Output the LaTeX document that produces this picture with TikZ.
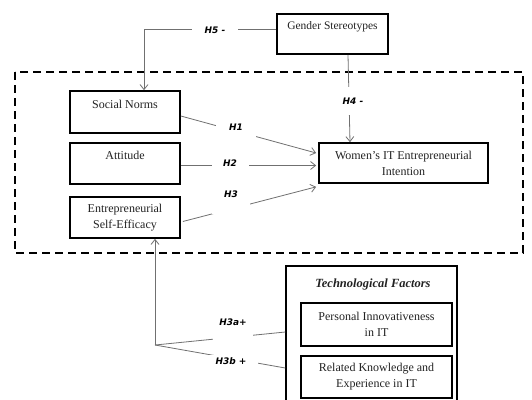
\documentclass[tikz,border=0pt]{standalone}
\usepackage{fontspec}
\setmainfont{Liberation Serif}
\newfontfamily\lblfont{DejaVu Sans}
\usetikzlibrary{arrows.meta,calc}
\definecolor{ln}{HTML}{707070}
\definecolor{txt}{HTML}{222222}
\begin{document}
\begin{tikzpicture}[x=1pt,y=-1pt,
  box/.style={draw=black,line width=1.7pt,align=center,inner sep=0pt,text=txt,
    font=\fontsize{12}{16}\selectfont,minimum width=110pt,minimum height=41pt},
  conn/.style={draw=ln,line width=0.8pt},
  arr/.style={conn,-{Straight Barb[length=5pt,width=8pt]}},
  lbl/.style={fill=white,inner sep=0pt,text=black,font=\lblfont\bfseries\itshape\fontsize{9}{10}\selectfont}
]
\useasboundingbox (0,0) rectangle (532,399);

% dashed frame
\draw[line width=2.2pt,dash pattern=on 8pt off 5pt] (15,72) rectangle (523,253);

% boxes
\node[box,minimum width=111pt,minimum height=40pt,font=\fontsize{11.5}{16}\selectfont] (gs) at (332.5,34) {Gender Stereotypes\\~};
\node[box,minimum height=42pt] (sn) at (125,112) {Social Norms\\~};
\node[box] (att) at (125,163.5) {Attitude\\~};
\node[box] (ese) at (125,217.5) {Entrepreneurial\\Self-Efficacy};
\node[box,minimum width=169pt,minimum height=40pt] (wie) at (403.5,163) {Women's IT Entrepreneurial\\Intention};

\node[draw=black,line width=1.5pt,minimum width=171pt,minimum height=144pt,inner sep=0pt] (tf) at (371.5,338) {};
\node[text=txt,font=\fontsize{12.5}{14}\selectfont\bfseries\itshape] (tft) at (373,284) {Technological Factors};
\node[box,minimum width=151pt,minimum height=43pt] (pi) at (376.5,324.5) {Personal Innovativeness\\in IT};
\node[box,minimum width=151pt,minimum height=42pt] (rk) at (376.5,377) {Related Knowledge and\\Experience in IT};

% connectors
\draw[arr] ($(gs.west)+(0,-5)$) -| ($(sn.north)+(19,0)$);
\draw[arr] ($(gs.south)+(15.5,0)$) -- ($(wie.north)+(-53.5,0)$);
\draw[arr] ($(sn.east)+(0,4)$) -- ($(wie.west)+(-2,-10)$);
\draw[arr] ($(att.east)+(0,2)$) -- ($(wie.west)+(-2,2.5)$);
\draw[arr] ($(ese.east)+(2,4)$) -- ($(wie.south west)+(-2,3)$);

\coordinate (split) at (155,345);
\draw[arr] (split) -- (split |- ese.south);
\draw[conn] (split) -- ($(tf.west)+(0,-6)$);
\draw[conn] (split) -- ($(tf.west)+(0,30)$);

% labels
\node[lbl,minimum width=46pt,minimum height=12pt] (h5) at (215,30.5) {H5 -};
\node[lbl,minimum width=22pt,minimum height=28pt] (h4) at (353,101) {H4 -};
\node[lbl,minimum width=40pt,text depth=6pt,minimum height=18pt] (h1) at (236,130) {H1};
\node[lbl,minimum width=37pt,minimum height=14pt] (h2) at (230,163) {H2};
\node[lbl,minimum width=38pt,text depth=14pt,minimum height=26pt] (h3) at (231,201) {H3};
\node[lbl,minimum width=40pt,text depth=14pt,minimum height=26pt] (h3a) at (233,329) {H3a+};
\node[lbl,minimum width=54pt,minimum height=12pt] (h3b) at (231,361) {H3b +};
\end{tikzpicture}
\end{document}
